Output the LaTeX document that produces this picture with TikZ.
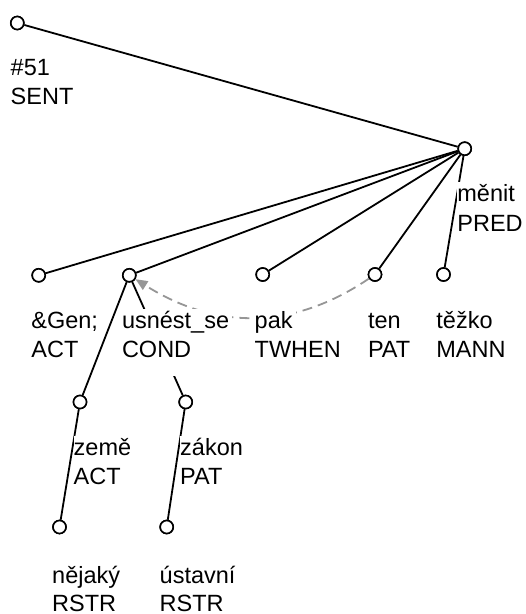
\documentclass[tikz,border=0pt]{standalone}
\usepackage{fontspec}
\setmainfont{Liberation Sans}
\usetikzlibrary{arrows.meta}
\newcommand{\lab}[5]{%
  \node[labline] (#1-a) at (#2,#3) {#4\hspace*{3pt}\labstrut};
  \node[labline] (#1-b) at (#2,#3+29.5) {#5\hspace*{3pt}\labstrut};
}
\newcommand{\labbottom}[5]{%
  \node[labline] (#1-a) at (#2,#3) {#4};
  \node[labline] (#1-b) at (#2,#3+28.2) {#5};
}
\newcommand{\labstrut}{\rule[-18pt]{0pt}{37.5pt}}
\begin{document}
\begin{tikzpicture}[x=1pt,y=-1pt,
  tnode/.style={circle,draw,fill=white,line width=1.6pt,minimum size=13pt,inner sep=0pt},
  edge/.style={line width=1.8pt},
  coref/.style={line width=1.8pt,draw={rgb,255:red,150;green,150;blue,150},dash pattern=on 10pt off 6pt,
    -{Triangle[length=12pt,width=10pt,fill={rgb,255:red,150;green,150;blue,150}]}},
  labline/.style={anchor=base west,fill=white,inner sep=0pt,font=\fontsize{23.5pt}{29pt}\selectfont}]
\useasboundingbox (0,0) rectangle (526,614);
% tree nodes
\node[tnode] (root) at (17.3,23) {};
\node[tnode] (menit) at (464.7,148.7) {};
\node[tnode] (gen) at (38.7,275.3) {};
\node[tnode] (usnest) at (129.3,275.3) {};
\node[tnode] (pak) at (262.7,274.5) {};
\node[tnode] (ten) at (375,274.5) {};
\node[tnode] (tezko) at (443.5,274.5) {};
\node[tnode] (zeme) at (80,402) {};
\node[tnode] (zakon) at (185.7,402) {};
\node[tnode] (nejaky) at (59.5,527) {};
\node[tnode] (ustavni) at (166.7,527) {};
% edges
\draw[edge] (root) -- (menit);
\draw[edge] (menit) -- (gen);
\draw[edge] (menit) -- (usnest);
\draw[edge] (menit) -- (pak);
\draw[edge] (menit) -- (ten);
\draw[edge] (menit) -- (tezko);
\draw[edge] (usnest) -- (zeme);
\draw[edge] (usnest) -- (zakon);
\draw[edge] (zeme) -- (nejaky);
\draw[edge] (zakon) -- (ustavni);
\draw[coref] (ten) .. controls (293.3,329.7) and (217.3,330.7) .. (usnest);
% circles on top of the connectors
\foreach \n in {root,menit,gen,usnest,pak,ten,tezko,zeme,zakon,nejaky,ustavni}
  \draw[line width=1.6pt,fill=white] (\n) circle (6.5pt);
% labels
\lab{lroot}{10.5}{75}{\#51}{SENT}
\lab{lmenit}{457.2}{201.7}{měnit}{PRED}
\lab{lgen}{31.2}{328.3}{\&Gen;}{ACT}
\lab{lusnest}{121.8}{328.3}{usnést\_se}{COND}
\lab{lpak}{254.5}{328.3}{pak}{TWHEN}
\lab{lten}{367.8}{328.3}{ten}{PAT}
\lab{ltezko}{436.2}{328.3}{těžko}{MANN}
\lab{lzeme}{73.5}{455}{země}{ACT}
\lab{lzakon}{180}{455}{zákon}{PAT}
\labbottom{lnejaky}{52}{583.3}{nějaký}{RSTR}
\labbottom{lustavni}{159.5}{583.3}{ústavní}{RSTR}
\end{tikzpicture}
\end{document}
